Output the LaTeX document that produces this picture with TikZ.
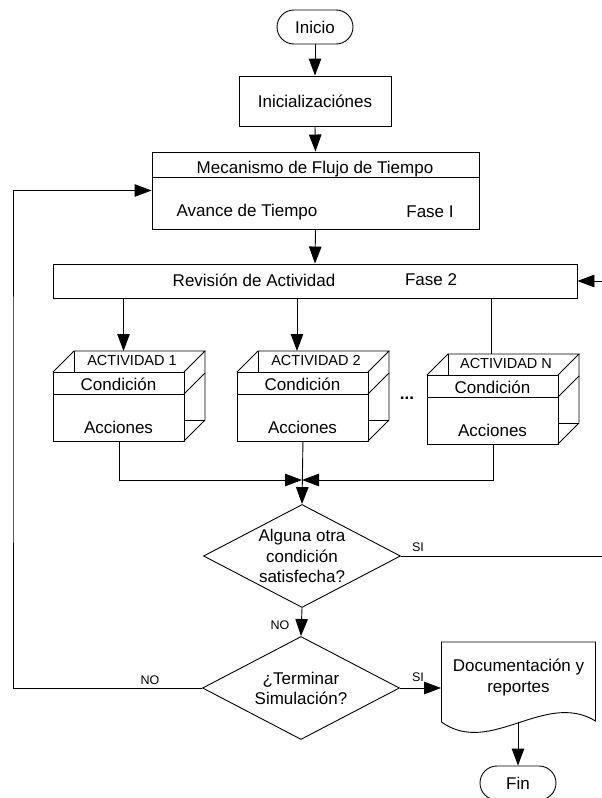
\documentclass[tikz,border=0pt]{standalone}
\usepackage{fontspec}
\setmainfont{Liberation Sans}
\usetikzlibrary{arrows.meta,shapes.misc,shapes.geometric}

% 3D activity box: #1 = left x, #2 = top y of the front face, #3 = header label, #4 = name
\newcommand{\ActBox}[4]{%
  \node[plain,minimum width=131pt,minimum height=69pt,anchor=north west] (#4) at (#1,#2) {};
  \draw (#1,#2) -- (#1+21,#2-21) -- (#1+152,#2-21) -- (#1+131,#2);
  \draw (#1+21,#2-21) -- (#1+21,#2);
  \draw (#1+152,#2-21) -- (#1+152,#2+48) -- (#1+131,#2+69);
  \draw (#1+131,#2+48) -- (#1+152,#2+48);
  \draw (#1+131,#2+22) -- (#1+152,#2+1);
  \draw (#1,#2+22) -- (#1+131,#2+22);
  \node[hdr] (#4h) at (#1+79,#2-11) {#3};
  \node (#4c) at (#1+65.5,#2+12) {Condición};
  \node (#4a) at (#1+65.5,#2+55) {Acciones};
}

\begin{document}
\begin{tikzpicture}[x=1pt,y=-1pt,line width=0.9pt,
  every node/.style={font=\fontsize{17}{20.5}\selectfont},
  plain/.style={draw,rectangle,inner sep=0pt},
  term/.style={draw,rounded rectangle,minimum width=76pt,minimum height=34pt,inner sep=0pt},
  decision/.style={draw,diamond,inner sep=0pt,minimum width=197pt,minimum height=103pt},
  hdr/.style={font=\fontsize{14.5}{16}\selectfont},
  lbl/.style={font=\fontsize{12.5}{14}\selectfont},
  arr/.style={-{Triangle[length=17pt,width=12.5pt]}}]

\fill[white] (0,0) rectangle (602,798);
\useasboundingbox (0,0) rectangle (602,798);

% top of the flow
\node[term] (ini) at (315,27) {Inicio};
\node[plain,minimum width=152pt,minimum height=50pt] (init) at (315,101) {Inicializaciónes};

% time-flow mechanism (phase 1)
\node[plain,minimum width=327pt,minimum height=77pt] (mec) at (315.5,190.5) {};
\draw (152,177) -- (479,177);
\node (mect) at (315,169) {Mecanismo de Flujo de Tiempo};
\node (avt) at (247,212) {Avance de Tiempo};
\node (f1) at (430,212) {Fase I};

% activity scan (phase 2)
\node[plain,minimum width=524pt,minimum height=34pt] (rev) at (315,281) {};
\node (revt) at (254,280) {Revisión de Actividad};
\node (f2) at (431,280) {Fase 2};

% activities
\ActBox{53}{372}{ACTIVIDAD 1}{b1}
\ActBox{237}{372}{ACTIVIDAD 2}{b2}
\ActBox{427}{375}{ACTIVIDAD N}{bN}
\node[font=\bfseries\fontsize{17}{20}\selectfont] (dots) at (407,398) {...};

% decisions
\node[decision] (d1) at (302,556) {};
\node[align=center] (d1t) at (d1) {Alguna otra\\condición\\satisfecha?};
\node[decision] (d2) at (301,688) {};
\node[align=center,font=\fontsize{17}{20}\selectfont] (d2t) at (d2) {¿Terminar\\Simulación?};

% report document
\node[minimum width=154pt,minimum height=80pt] (doc) at (518.5,682) {};
\draw (441.5,642) -- (595.5,642) -- (595.5,721)
  .. controls (545,690) and (490,757) .. (441.5,722) -- cycle;
\node[align=center,font=\fontsize{17}{21}\selectfont] (doct) at (518.5,677.5) {Documentación y\\reportes};
\node[term] (fin) at (518,783) {Fin};

% branch labels
\node[lbl] (si1) at (418,547) {SI};
\node[lbl] (no1) at (280,625) {NO};
\node[lbl] (si2) at (418,677) {SI};
\node[lbl] (no2) at (150,680) {NO};

% helper points
\coordinate (b1in) at (123.5,351);
\coordinate (b2in) at (297,351);
\coordinate (bNin) at (491,354);
\coordinate (m) at (302,480);
\coordinate (siend) at (602,556);
\coordinate (revin) at (602,281);
\coordinate (lc) at (13,400);
\coordinate (docb) at (518,722);

% connectors
\draw[arr] (ini.south) -- (init.north);
\draw[arr] (init.south) -- (mec.north);
\draw[arr] (mec.south) -- (rev.north);
\draw[arr] (revin) -- (rev.east);
\draw[arr] (rev.south -| b1in) -- (b1in);
\draw[arr] (rev.south -| b2in) -- (b2in);
\draw (rev.south -| bNin) -- (bNin);
\draw[arr] (b1.south) |- (m);
\draw[arr] (bN.south) |- (m);
\draw[arr] (b2.south) -- (d1.north);
\draw (d1.east) -- (siend);
\draw[arr] (d1.south) -- (d2.north);
\draw[arr] (d2.west) -| (lc) |- (mec.west);
\draw[arr] (d2.east) -- (d2.east -| doc.west);
\draw[arr] (docb) -- (fin.north);
\end{tikzpicture}
\end{document}
